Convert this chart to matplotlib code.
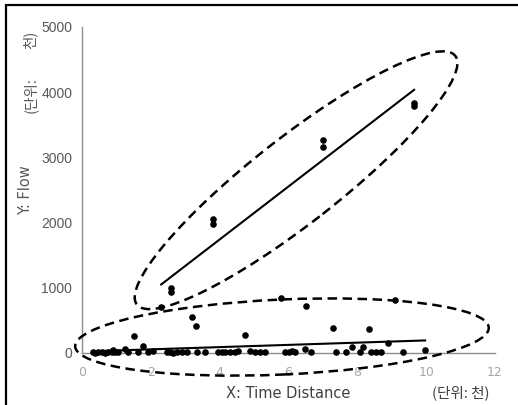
import numpy as np
import matplotlib
matplotlib.use("Agg")
import matplotlib.pyplot as plt
from matplotlib.patches import Ellipse, Rectangle
from matplotlib import transforms

# 상단 그룹 (유량이 큰 구간)
upper_x = [2.3, 2.6, 2.6, 3.8, 3.8, 7.0, 7.0, 9.65, 9.65]
upper_y = [700, 990, 940, 2050, 1980, 3270, 3160, 3830, 3790]

# 하단 그룹 (0 부근에 몰린 구간)
lower_x = [0.32, 0.38, 0.47, 0.58, 0.67, 0.76, 0.87, 0.9, 0.96, 1.05, 1.25, 1.34,
           1.5, 1.63, 1.77, 1.92, 2.06, 2.47, 2.56, 2.65, 2.76, 2.9, 3.05, 3.2,
           3.3, 3.34, 3.58, 3.95, 4.07, 4.16, 4.3, 4.45, 4.53, 4.74, 4.88, 5.03,
           5.17, 5.32, 5.78, 5.9, 6.0, 6.1, 6.2, 6.48, 6.5, 6.66, 7.3, 7.38,
           7.67, 7.85, 8.08, 8.17, 8.35, 8.4, 8.55, 8.7, 8.9, 9.1, 9.33, 9.97]
lower_y = [10, 5, 8, 12, 6, 10, 15, 40, 8, 20, 60, 12,
           260, 15, 107, 10, 30, 8, 12, 6, 10, 15, 8, 550,
           410, 12, 10, 8, 15, 10, 20, 12, 25, 280, 30, 15,
           10, 20, 840, 20, 15, 30, 20, 55, 720, 10, 380, 12,
           15, 90, 10, 90, 370, 20, 15, 15, 150, 810, 15, 50]

x_ticks = [0, 2, 4, 6, 8, 10, 12]
y_ticks = [0, 1000, 2000, 3000, 4000, 5000]

fig = plt.figure(figsize=(5.18, 4.05), dpi=100)
ax = fig.add_axes([82 / 518, 52 / 405, 413 / 518, 326 / 405])

ax.scatter(upper_x, upper_y, s=14, color="black", zorder=3, clip_on=False)
ax.scatter(lower_x, lower_y, s=14, color="black", zorder=3, clip_on=False)

# 그룹별 추세선
for gx, gy in [(upper_x, upper_y), (lower_x, lower_y)]:
    k, b = np.polyfit(gx, gy, 1)
    xs = np.array([min(gx), max(gx)])
    ax.plot(xs, k * xs + b, color="black", lw=1.5, zorder=2)

ax.set_xlim(0, 12)
ax.set_ylim(0, 5000)
ax.set_xticks(x_ticks)
ax.set_yticks(y_ticks)
ax.tick_params(length=0)
ax.tick_params(axis="y", pad=7, labelsize=10, labelcolor="#595959")
ax.tick_params(axis="x", pad=9, labelsize=9, labelcolor="#a6a6a6")
for lab in ax.get_yticklabels():
    lab.set_family(["Liberation Sans", "DejaVu Sans"])
for s in ["top", "right"]:
    ax.spines[s].set_visible(False)
for s in ["left", "bottom"]:
    ax.spines[s].set_color("#8c8c8c")
    ax.spines[s].set_linewidth(1)

# 그룹 표시용 점선 타원 (중심은 데이터 좌표, 크기는 인치)
for cx, cy, w, h, ang in [(6.22, 2650, 4.04, 0.86, 38), (5.81, 245, 4.14, 0.75, 2.6)]:
    tr = fig.dpi_scale_trans + transforms.ScaledTranslation(cx, cy, ax.transData)
    ax.add_patch(Ellipse((0, 0), w, h, angle=ang, transform=tr, fill=False,
                         ec="black", lw=1.8, ls=(0, (3.8, 2.2)), clip_on=False, zorder=4))

# 축 제목
fig.text(26 / 518, 1 - 190 / 405, "Y: Flow", rotation=90, ha="center", va="center",
         fontsize=10.5, color="#595959")
cjk = ["Noto Sans CJK KR", "DejaVu Sans"]
fig.text(30 / 518, 1 - 95 / 405, "(단위:", rotation=90, ha="center", va="center",
         fontsize=10.5, color="#595959", family=cjk)
fig.text(30 / 518, 1 - 40 / 405, "천)", rotation=90, ha="center", va="center",
         fontsize=10.5, color="#595959", family=cjk)
fig.text(288 / 518, 1 - 393 / 405, "X: Time Distance", ha="center", va="center",
         fontsize=10.5, color="#404040")
fig.text(461 / 518, 1 - 393 / 405, "(단위: 천)", ha="center", va="center",
         fontsize=10.5, color="#404040", family=cjk)

# 바깥 테두리
fig.patches.append(Rectangle((6 / 518, -0.1), 1.0, 1 - 5 / 405 + 0.1, transform=fig.transFigure,
                             fill=False, ec="black", lw=1.6))

fig.savefig("out.png", dpi=100)
